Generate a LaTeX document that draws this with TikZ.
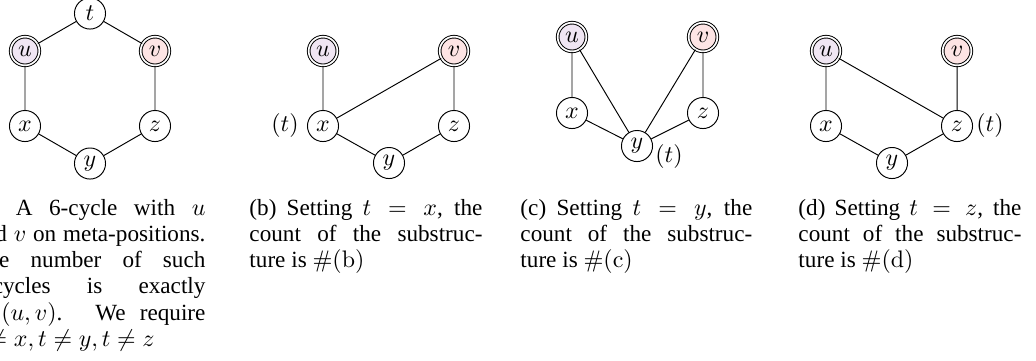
\documentclass[tikz,border=0pt]{standalone}
\usepackage[no-math]{fontspec}
\setmainfont{Liberation Serif}
\definecolor{ucol}{RGB}{240,230,243}
\definecolor{vcol}{RGB}{253,228,228}
\tikzset{
  vtx/.style={circle, draw, line width=0.4pt, minimum size=13pt, inner sep=0pt, font=\fontsize{10}{12}\selectfont},
  metau/.style={vtx, double, double distance=0.7pt, minimum size=12pt, fill=ucol},
  metav/.style={vtx, double, double distance=0.7pt, minimum size=12pt, fill=vcol},
  edge/.style={line width=0.4pt},
  tlabel/.style={inner sep=0pt, font=\fontsize{10}{12}\selectfont},
  capt/.style={inner sep=0pt, anchor=base west, font=\fontsize{9.7}{11}\selectfont}
}
\begin{document}
\begin{tikzpicture}[x=0.41841pt, y=-0.41841pt]
\useasboundingbox (0,0) rectangle (1036,360);
\clip (0,0) rectangle (1036,360);
% (a)
\node[vtx]   (at) at (90,13.5) {$t$};
\node[metau] (au) at (25,51) {$u$};
\node[metav] (av) at (155,51) {$v$};
\node[vtx]   (ax) at (25,126) {$x$};
\node[vtx]   (az) at (155,126) {$z$};
\node[vtx]   (ay) at (90,163.5) {$y$};
\draw[edge] (at) -- (au) (at) -- (av) (au) -- (ax) (av) -- (az) (ax) -- (ay) (ay) -- (az);
\node[capt] (capa) at (-27,215) {\parbox[t]{97.07pt}{(a) A 6-cycle with $u$\linebreak and $v$ on meta-positions.\linebreak The number of such\linebreak 6-cycles is exactly\linebreak $C_6(u,v)$. We require\linebreak $t\neq x, t\neq y, t\neq z$}};
% (b)
\node[metau] (bu) at (323,51) {$u$};
\node[metav] (bv) at (454,51) {$v$};
\node[vtx]   (bx) at (323,126) {$x$};
\node[vtx]   (bz) at (454,126) {$z$};
\node[vtx]   (by) at (389,163) {$y$};
\node[tlabel] (bt) at (285,126) {$(t)$};
\draw[edge] (bu) -- (bx) (bv) -- (bz) (bx) -- (by) (by) -- (bz) (bx) -- (bv);
\node[capt] (capb) at (249,215) {\parbox[t]{97.5pt}{(b) Setting $t = x$, the\linebreak count of the substruc-\linebreak ture is $\#(\mathrm{b})$}};
% (c)
\node[metau] (cu) at (572,37) {$u$};
\node[metav] (cv) at (703,37) {$v$};
\node[vtx]   (cx) at (572,113) {$x$};
\node[vtx]   (cz) at (703,113) {$z$};
\node[vtx]   (cy) at (637,146) {$y$};
\node[tlabel] (ct) at (669,157) {$(t)$};
\draw[edge] (cu) -- (cx) (cu) -- (cy) (cv) -- (cy) (cv) -- (cz) (cx) -- (cy) (cz) -- (cy);
\node[capt] (capc) at (520,215) {\parbox[t]{97pt}{(c) Setting $t = y$, the\linebreak count of the substruc-\linebreak ture is $\#(\mathrm{c})$}};
% (d)
\node[metau] (du) at (826,51) {$u$};
\node[metav] (dv) at (957,51) {$v$};
\node[vtx]   (dx) at (826,126) {$x$};
\node[vtx]   (dz) at (957,126) {$z$};
\node[vtx]   (dy) at (892,163) {$y$};
\node[tlabel] (dt) at (990,126) {$(t)$};
\draw[edge] (du) -- (dx) (du) -- (dz) (dv) -- (dz) (dx) -- (dy) (dy) -- (dz);
\node[capt] (capd) at (798,215) {\parbox[t]{93.3pt}{(d) Setting $t = z$, the\linebreak count of the substruc-\linebreak ture is $\#(\mathrm{d})$}};
\end{tikzpicture}
\end{document}
